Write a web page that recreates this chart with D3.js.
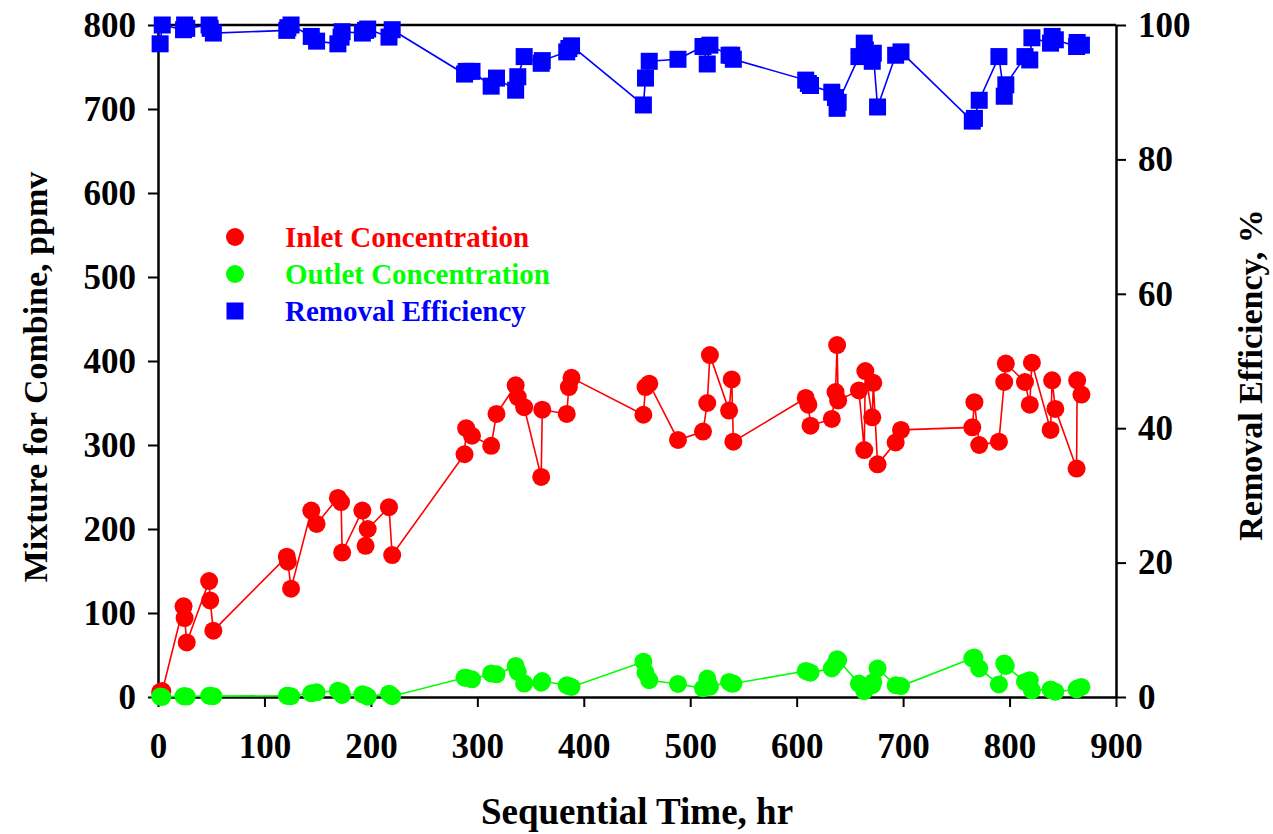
<!DOCTYPE html>
<html>
<head>
<meta charset="utf-8">
<script src="https://cdn.jsdelivr.net/npm/d3@7"></script>
<style>
  html, body { margin: 0; padding: 0; background: #fff; }
  svg text { font-family: "Liberation Serif", "Times New Roman", serif; font-weight: bold; }
</style>
</head>
<body>
<svg id="chart" width="1273" height="834"></svg>
<script>
// Sequential time (hr) of each sample
const times = [2, 4, 24, 25, 27, 48, 49, 52, 121, 122, 125, 144, 149, 169, 172, 173, 192, 195, 197, 217, 220,
  288, 289.5, 295, 313, 318, 336, 338, 344, 360, 361, 384, 386, 388.5,
  456, 458, 461.5, 488.5, 512, 516, 518.5, 536.5, 539, 540.5,
  608.5, 611, 613, 633, 636.5, 638, 639, 658.5, 663.5, 664.5, 671, 672, 676, 693, 698,
  765, 767, 771.5, 790, 795, 796.5, 814.5, 819, 821, 838.5, 840, 843, 863, 863.5, 867.5];

// Inlet concentration, ppmv
const inlet = [6, 7, 108, 94, 65, 138, 115, 79, 167, 161, 129, 222, 206, 237, 232, 172, 222, 180, 200, 226, 169,
  289, 320, 311, 299, 337, 371, 357, 345, 262, 342, 337, 369, 380,
  336, 369, 373, 306, 316, 350, 407, 341, 378, 304,
  356, 348, 323, 331, 363, 419, 353, 365, 294, 388, 333, 374, 277, 303, 318,
  321, 351, 300, 304, 375, 397, 375, 348, 398, 318, 377, 343, 272, 377, 360];

// Outlet concentration, ppmv
const outlet = [0.5, 0, 1, 1, 0.5, 1.5, 1.5, 1, 1.5, 1.5, 1, 4.4, 5.6, 7.5, 6, 2.4, 3.2, 2, 0.4, 4, 1,
  23, 23, 21, 28, 27, 37, 30, 16, 17, 19, 14, 13, 12,
  42, 29, 20, 15.5, 10.3, 22, 12.3, 18, 16, 16,
  31, 30, 29, 34, 40, 45, 44, 16, 7, 10, 14, 18, 34, 14, 13,
  46, 47, 34, 15, 40, 37, 18, 20, 8, 9, 8, 6.3, 9, 10, 12];

// Removal efficiency, %
const efficiency = [97.2, 100, 99.3, 100, 99.5, 100, 99.5, 98.8, 99.2, 99.6, 100, 98.3, 97.6, 97.2, 98.2, 99, 98.8, 99.2, 99.4, 98.2, 99.3,
  92.7, 93.1, 93.1, 90.9, 92.1, 90.3, 92.3, 95.3, 94.3, 94.7, 96, 96.5, 96.9,
  88.1, 92.1, 94.6, 94.9, 96.8, 94.2, 97, 95.5, 95.5, 94.9,
  91.8, 91.3, 91.0, 90.0, 89.2, 87.6, 88.5, 95.3, 97.3, 96.3, 94.6, 95.8, 87.8, 95.5, 96,
  85.7, 86.1, 88.8, 95.3, 89.4, 91.1, 95.3, 94.8, 98.1, 97.3, 98.3, 97.8, 96.8, 97.4, 97];

const xTicks = [0, 100, 200, 300, 400, 500, 600, 700, 800, 900];
const yTicks = [0, 100, 200, 300, 400, 500, 600, 700, 800];
const effTicks = [0, 20, 40, 60, 80, 100];

const legendLabels = ["Inlet Concentration", "Outlet Concentration", "Removal Efficiency"];
const colors = { inlet: "#ff0000", outlet: "#00ff00", eff: "#0000ff" };

const W = 1273, H = 834;
const margin = { left: 158, right: 157, top: 25, bottom: 137 };
const iw = W - margin.left - margin.right;
const ih = H - margin.top - margin.bottom;

const svg = d3.select("#chart");
const g = svg.append("g").attr("transform", `translate(${margin.left},${margin.top})`);

const x = d3.scaleLinear().domain([0, 900]).range([0, iw]);
const y = d3.scaleLinear().domain([0, 800]).range([ih, 0]);
const yR = d3.scaleLinear().domain([0, 100]).range([ih, 0]);

// frame line along the top edge
g.append("line").attr("x1", 0).attr("x2", iw).attr("y1", 0).attr("y2", 0)
  .attr("stroke", "#000").attr("stroke-width", 2.5);

function styleAxis(sel) {
  sel.select(".domain").attr("stroke", "#000").attr("stroke-width", 2.5);
  sel.selectAll(".tick line").attr("stroke", "#000").attr("stroke-width", 2);
  sel.selectAll(".tick text").attr("font-size", 35).attr("fill", "#000")
    .style("font-family", '"Liberation Serif", "Times New Roman", serif').style("font-weight", "bold");
}

g.append("g").attr("transform", `translate(0,${ih})`)
  .call(d3.axisBottom(x).tickValues(xTicks).tickFormat(d3.format("d")).tickSize(10).tickSizeOuter(0).tickPadding(26))
  .call(styleAxis);

g.append("g")
  .call(d3.axisLeft(y).tickValues(yTicks).tickFormat(d3.format("d")).tickSize(10).tickSizeOuter(0).tickPadding(12))
  .call(styleAxis);

g.append("g").attr("transform", `translate(${iw},0)`)
  .call(d3.axisRight(yR).tickValues(effTicks).tickFormat(d3.format("d")).tickSize(10).tickSizeOuter(0).tickPadding(12))
  .call(styleAxis);

// axis titles
svg.append("text").attr("x", margin.left + iw / 2).attr("y", 824)
  .attr("text-anchor", "middle").attr("font-size", 37).text("Sequential Time, hr");
svg.append("text").attr("transform", `translate(47,${margin.top + ih / 2 + 16}) rotate(-90)`)
  .attr("text-anchor", "middle").attr("font-size", 34).text("Mixture for Combine, ppmv");
svg.append("text").attr("transform", `translate(1262,${margin.top + ih / 2 + 14}) rotate(-90)`)
  .attr("text-anchor", "middle").attr("font-size", 34).text("Removal Efficiency, %");

const rows = times.map((t, i) => ({ t, inlet: inlet[i], outlet: outlet[i], eff: efficiency[i] }));

const plot = g.append("g");

function drawCircles(key, color) {
  const line = d3.line().x(d => x(d.t)).y(d => y(d[key]));
  plot.append("path").datum(rows).attr("d", line).attr("fill", "none")
    .attr("stroke", color).attr("stroke-width", 1.6);
  plot.append("g").selectAll("circle").data(rows).join("circle")
    .attr("cx", d => x(d.t)).attr("cy", d => y(d[key])).attr("r", 9)
    .attr("fill", color);
}

drawCircles("inlet", colors.inlet);
drawCircles("outlet", colors.outlet);

const effLine = d3.line().x(d => x(d.t)).y(d => yR(d.eff));
plot.append("path").datum(rows).attr("d", effLine).attr("fill", "none")
  .attr("stroke", colors.eff).attr("stroke-width", 1.6);
const sq = 17;
plot.append("g").selectAll("rect").data(rows).join("rect")
  .attr("x", d => x(d.t) - sq / 2).attr("y", d => yR(d.eff) - sq / 2)
  .attr("width", sq).attr("height", sq).attr("fill", colors.eff);

// legend
const legend = svg.append("g").attr("transform", "translate(235,237)");
const legendColors = [colors.inlet, colors.outlet, colors.eff];
legendLabels.forEach((label, i) => {
  const row = legend.append("g").attr("transform", `translate(0,${i * 37})`);
  if (i < 2) {
    row.append("circle").attr("r", 9).attr("fill", legendColors[i]);
  } else {
    row.append("rect").attr("x", -sq / 2).attr("y", -sq / 2).attr("width", sq).attr("height", sq)
      .attr("fill", legendColors[i]);
  }
  row.append("text").attr("x", 50).attr("y", 10).attr("font-size", 29)
    .attr("fill", legendColors[i]).text(label);
});
</script>
</body>
</html>
